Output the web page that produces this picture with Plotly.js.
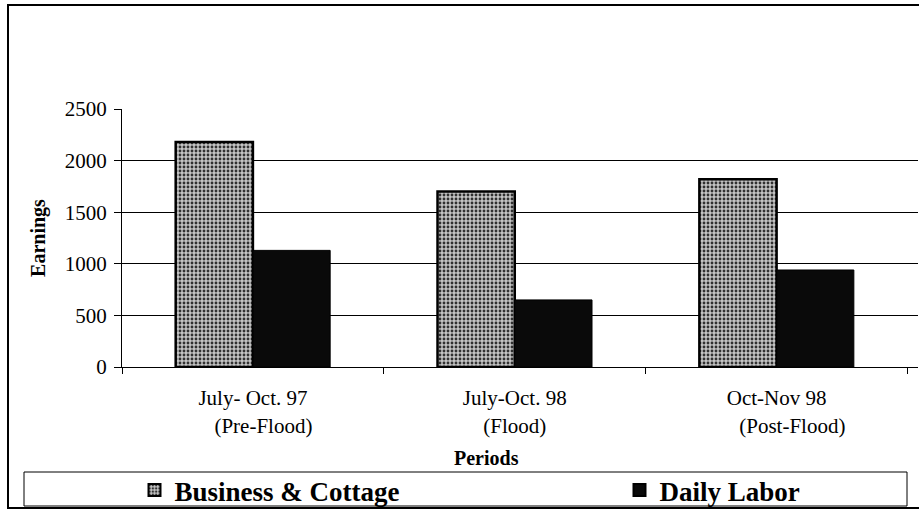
<!DOCTYPE html>
<html>
<head>
<meta charset="utf-8">
<script src="https://cdn.plot.ly/plotly-3.0.1.min.js"></script>
<style>html,body{margin:0;padding:0;background:#fff;}#chart{width:919px;height:509px;}</style>
</head>
<body>
<div id="chart"></div>
<script>
var categories = [
  "July- Oct. 97<br>\u00A0\u00A0\u00A0\u00A0(Pre-Flood)",
  "July-Oct. 98<br>(Flood)",
  "Oct-Nov 98<br>\u00A0\u00A0\u00A0\u00A0\u00A0\u00A0(Post-Flood)"
];
var seriesNames = ["Business & Cottage", "Daily Labor"];
var businessCottage = [2180, 1700, 1820];
var dailyLabor = [1130, 650, 940];
var yTicks = [0, 500, 1000, 1500, 2000, 2500];

var serif = "Liberation Serif";

var traces = [
  {
    type: "bar", name: "<b>" + seriesNames[0] + "</b>", x: categories, y: businessCottage,
    legend: "legend",
    marker: {
      color: "#b8b8b8",
      pattern: {shape: ".", fgcolor: "#303030", bgcolor: "#c4c4c4", size: 4, solidity: 0.4, fillmode: "replace"},
      line: {color: "#000", width: 2.5}
    },
    hoverinfo: "y"
  },
  {
    type: "bar", name: "<b>" + seriesNames[1] + "</b>", x: categories, y: dailyLabor,
    legend: "legend2",
    marker: {color: "#0a0a0a", line: {color: "#000", width: 1}},
    hoverinfo: "y"
  }
];

var legendCommon = {
  orientation: "h",
  xanchor: "left",
  y: (367 - 466) / 258, yanchor: "top",
  font: {family: serif, size: 27, color: "#000"},
  bgcolor: "rgba(0,0,0,0)",
  borderwidth: 0,
  itemsizing: "constant"
};

var layout = {
  width: 919, height: 509,
  margin: {l: 122, r: 1, t: 109, b: 142, autoexpand: false},
  paper_bgcolor: "#fff", plot_bgcolor: "#fff",
  barmode: "group", bargap: 0.41, bargroupgap: 0,
  showlegend: true,
  font: {family: serif, color: "#000", size: 21},
  xaxis: {
    type: "category",
    range: [-0.5, 2.54],
    showgrid: false,
    showline: true, linecolor: "#000", linewidth: 1,
    ticks: "outside", tickson: "boundaries", ticklen: 6, tickcolor: "#000",
    ticklabelstandoff: 12,
    tickfont: {family: serif, size: 21, color: "#000"},
    fixedrange: true
  },
  yaxis: {
    range: [0, 2500],
    tickvals: yTicks,
    ticktext: yTicks.map(String),
    showgrid: true, gridcolor: "#000", gridwidth: 1,
    zeroline: false,
    showline: true, linecolor: "#000", linewidth: 1,
    ticks: "outside", ticklen: 7, tickcolor: "#000",
    ticklabelstandoff: 3,
    tickfont: {family: serif, size: 21, color: "#000"},
    title: {text: "<b>Earnings</b>", font: {family: serif, size: 20, color: "#000"}, standoff: 13},
    fixedrange: true
  },
  legend: Object.assign({}, legendCommon, {x: (134.5 - 122) / 796}),
  legend2: Object.assign({}, legendCommon, {x: (619.5 - 122) / 796}),
  annotations: [
    {
      text: "<b>Periods</b>", xref: "paper", yref: "paper",
      x: (486 - 122) / 796, y: (367 - 458) / 258, xanchor: "center", yanchor: "middle",
      showarrow: false, font: {family: serif, size: 20, color: "#000"}
    }
  ],
  shapes: [
    {type: "rect", xref: "paper", yref: "paper",
     x0: (24 - 122) / 796, x1: (907 - 122) / 796,
     y0: (367 - 472) / 258, y1: (367 - 506) / 258,
     line: {color: "#000", width: 1}},
    {type: "rect", xref: "paper", yref: "paper",
     x0: (8 - 122) / 796, x1: (925 - 122) / 796,
     y0: (367 - 5) / 258, y1: (367 - 508) / 258,
     line: {color: "#000", width: 2}}
  ]
};

Plotly.newPlot("chart", traces, layout, {displayModeBar: false, staticPlot: true});
</script>
</body>
</html>
